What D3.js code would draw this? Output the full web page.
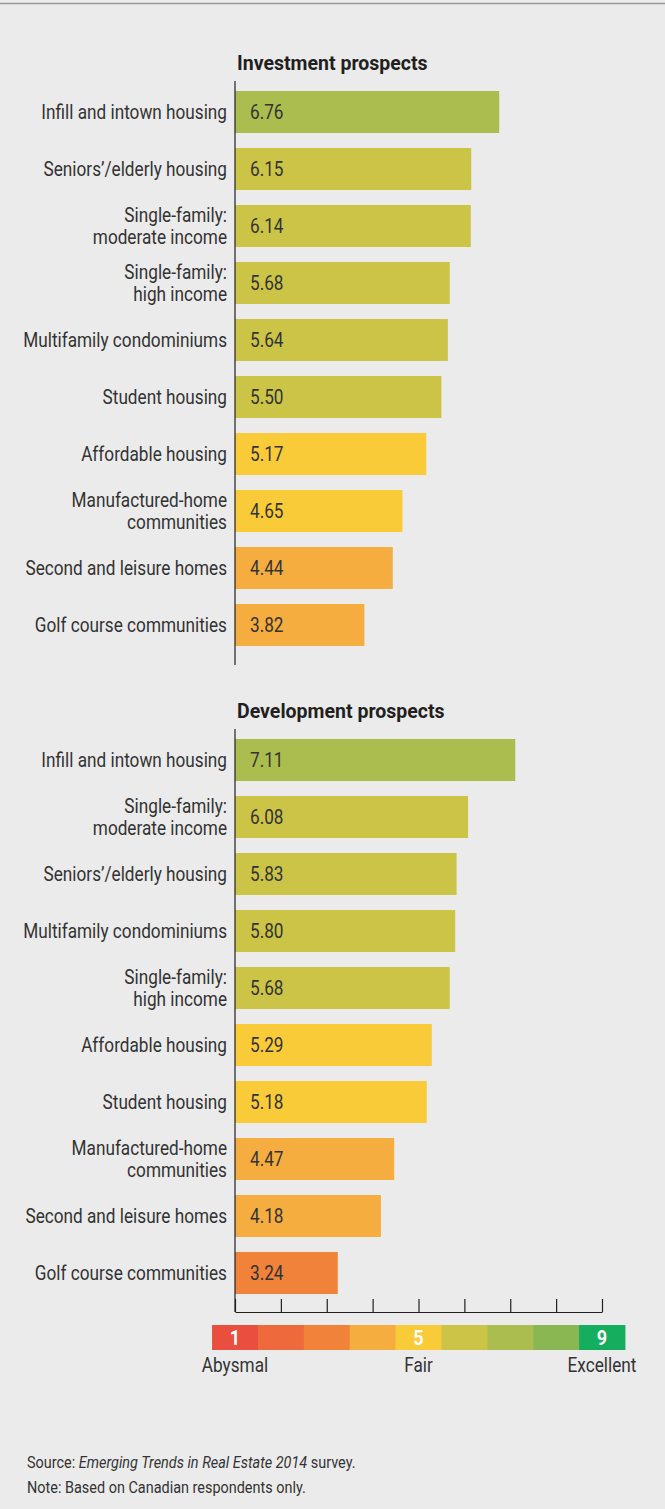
<!DOCTYPE html>
<html>
<head>
<meta charset="utf-8">
<script src="https://cdn.jsdelivr.net/npm/d3@7"></script>
<style>
  body { margin: 0; background: #ebebeb; }
  svg text { font-family: "Roboto", "Liberation Sans", sans-serif; }
</style>
</head>
<body>
<svg id="chart" width="665" height="1509"></svg>
<script>
// ---- data ----
var investCats = ["Infill and intown housing", "Seniors\u2019/elderly housing", "Single-family:\nmoderate income",
  "Single-family:\nhigh income", "Multifamily condominiums", "Student housing", "Affordable housing",
  "Manufactured-home\ncommunities", "Second and leisure homes", "Golf course communities"];
var investValues = [6.76, 6.15, 6.14, 5.68, 5.64, 5.50, 5.17, 4.65, 4.44, 3.82];

var devCats = ["Infill and intown housing", "Single-family:\nmoderate income", "Seniors\u2019/elderly housing",
  "Multifamily condominiums", "Single-family:\nhigh income", "Affordable housing", "Student housing",
  "Manufactured-home\ncommunities", "Second and leisure homes", "Golf course communities"];
var devValues = [7.11, 6.08, 5.83, 5.80, 5.68, 5.29, 5.18, 4.47, 4.18, 3.24];

var scaleKeys = [1, 2, 3, 4, 5, 6, 7, 8, 9];
var scaleColors = ["#e94e3f", "#ee6a3c", "#f0823a", "#f6ad40", "#f9cb38", "#cbc447", "#abbd4f", "#8bb753", "#15ae5e"];
var scaleShown = {1: "1", 5: "5", 9: "9"};
var scaleWords = [{v: 1, t: "Abysmal"}, {v: 5, t: "Fair"}, {v: 9, t: "Excellent"}];

var svg = d3.select("#chart");
var SQ = 0.86;   // the original face is a condensed grotesque, so squeeze horizontally

// text placed in a squeezed group
function label(parent, x, y, sq) {
  return parent.append("g")
    .attr("transform", "translate(" + x + "," + y + ") scale(" + (sq || SQ) + ",1)")
    .append("text");
}

// top rule
svg.append("line").attr("x1", 0).attr("x2", 665).attr("y1", 3.5).attr("y2", 3.5)
  .attr("stroke", "#9a9a9a").attr("stroke-width", 1.5);

var x = d3.scaleLinear().domain([1, 9]).range([235, 602]);
var color = d3.scaleOrdinal().domain(scaleKeys).range(scaleColors);

function panel(title, cats, values, top) {
  var rows = cats.map(function(c, i) { return {cat: c, value: values[i]}; });
  var y = d3.scaleBand().domain(cats).range([top, top + 555]).paddingInner(0.263).paddingOuter(0);
  var g = svg.append("g");

  label(g, 237, top - 21, 0.93)
    .attr("font-size", 21).attr("font-weight", "bold").attr("fill", "#231f20")
    .text(title);

  g.selectAll(".bar").data(rows).enter().append("rect")
    .attr("x", x(1))
    .attr("y", function(d) { return y(d.cat); })
    .attr("width", function(d) { return x(d.value) - x(1); })
    .attr("height", y.bandwidth())
    .attr("fill", function(d) { return color(Math.round(d.value)); });

  rows.forEach(function(d) {
    var cy = y(d.cat) + y.bandwidth() / 2;
    label(g, x(1) + 15, cy)
      .attr("dy", "0.36em")
      .attr("font-size", 20).attr("fill", "#333")
      .text(d3.format(".2f")(d.value));

    var lines = d.cat.split("\n");
    var t = label(g, 227, cy)
      .attr("text-anchor", "end")
      .attr("font-size", 20).attr("fill", "#333");
    lines.forEach(function(l, i) {
      t.append("tspan").attr("x", 0)
        .attr("dy", i == 0 ? (0.36 - (lines.length - 1) * 0.55) + "em" : "1.1em")
        .text(l);
    });
  });

  return {g: g, y: y};
}

var p1 = panel("Investment prospects", investCats, investValues, 91);
svg.append("line").attr("x1", x(1)).attr("x2", x(1))
  .attr("y1", p1.y.range()[0] - 10).attr("y2", p1.y.range()[1] + 19)
  .attr("stroke", "#231f20").attr("stroke-width", 1.2);

var p2 = panel("Development prospects", devCats, devValues, 739);
var axisY = p2.y.range()[1] + 18;
svg.append("line").attr("x1", x(1)).attr("x2", x(1))
  .attr("y1", p2.y.range()[0] - 10).attr("y2", axisY)
  .attr("stroke", "#231f20").attr("stroke-width", 1.2);

var ax = svg.append("g")
  .attr("transform", "translate(0," + axisY + ")")
  .call(d3.axisTop(x).ticks(8).tickSize(13).tickSizeOuter(0).tickFormat(""));
ax.selectAll("path, line").attr("stroke", "#231f20").attr("stroke-width", 1.2);

// colour key
var step = x(2) - x(1);
var key = svg.append("g");
key.selectAll("rect").data(scaleKeys).enter().append("rect")
  .attr("x", function(d) { return x(d) - step / 2; })
  .attr("y", 1325)
  .attr("width", step + 0.5)
  .attr("height", 25)
  .attr("fill", function(d) { return color(d); });
scaleKeys.filter(function(d) { return scaleShown[d]; }).forEach(function(d) {
  label(key, x(d), 1345)
    .attr("text-anchor", "middle")
    .attr("font-size", 21).attr("font-weight", "bold").attr("fill", "#fff")
    .text(scaleShown[d]);
});
scaleWords.forEach(function(d) {
  label(key, x(d.v), 1372)
    .attr("text-anchor", "middle")
    .attr("font-size", 20).attr("fill", "#333")
    .text(d.t);
});

// footnotes
var src = label(svg, 27, 1468, 0.875).attr("font-size", 16.5).attr("fill", "#333");
src.append("tspan").text("Source: ");
src.append("tspan").attr("font-style", "italic").text("Emerging Trends in Real Estate 2014");
src.append("tspan").text(" survey.");
label(svg, 27, 1493, 0.875).attr("font-size", 16.5).attr("fill", "#333")
  .text("Note: Based on Canadian respondents only.");
</script>
</body>
</html>
